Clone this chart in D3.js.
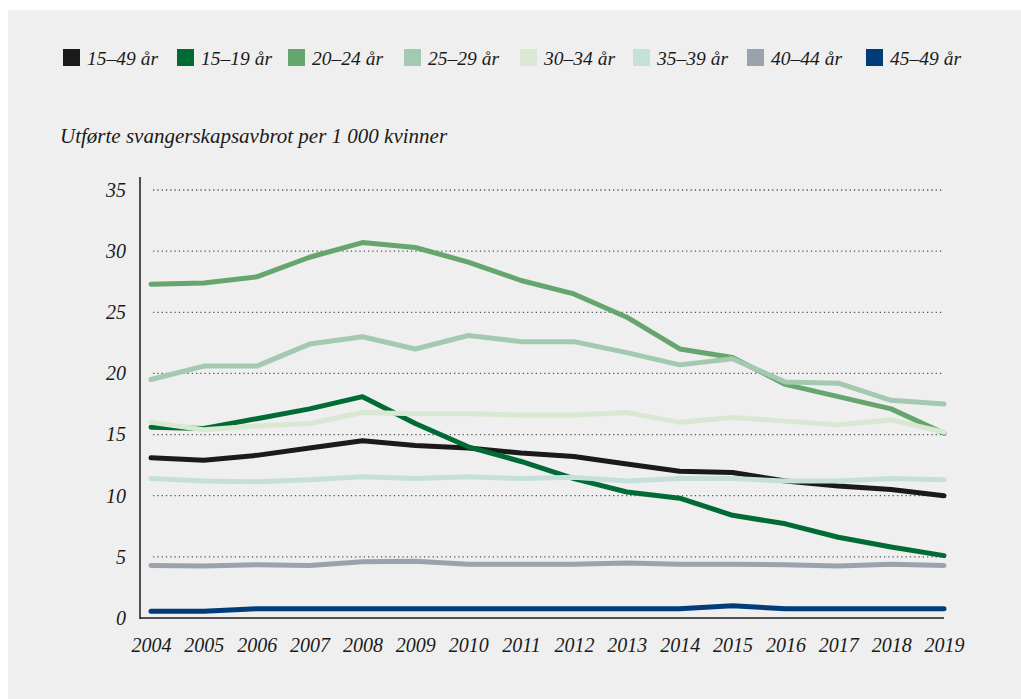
<!DOCTYPE html>
<html>
<head>
<meta charset="utf-8">
<style>
  body { margin: 0; background: #ffffff; }
  svg { display: block; }
  text { font-family: "Liberation Serif", serif; font-style: italic; fill: #1a1a1a; }
</style>
</head>
<body>
<script src="https://cdn.jsdelivr.net/npm/d3@7"></script>
<script>
// data
var years = [2004, 2005, 2006, 2007, 2008, 2009, 2010, 2011, 2012, 2013, 2014, 2015, 2016, 2017, 2018, 2019];
var seriesNames = ["15–49 år", "15–19 år", "20–24 år", "25–29 år", "30–34 år", "35–39 år", "40–44 år", "45–49 år"];
var seriesColors = ["#1a1a1a", "#006b35", "#66a66e", "#a3c9b1", "#d9e8d2", "#c5e0d8", "#9aa3ad", "#003b7a"];

var v1549 = [13.1, 12.9, 13.3, 13.9, 14.5, 14.1, 13.9, 13.5, 13.2, 12.6, 12.0, 11.9, 11.2, 10.8, 10.5, 10.0];
var v1519 = [15.6, 15.5, 16.3, 17.1, 18.1, 15.9, 14.0, 12.8, 11.4, 10.3, 9.8, 8.4, 7.7, 6.6, 5.8, 5.1];
var v2024 = [27.3, 27.4, 27.9, 29.5, 30.7, 30.3, 29.1, 27.6, 26.5, 24.6, 22.0, 21.3, 19.1, 18.1, 17.1, 15.1];
var v2529 = [19.5, 20.6, 20.6, 22.4, 23.0, 22.0, 23.1, 22.6, 22.6, 21.7, 20.7, 21.2, 19.3, 19.2, 17.8, 17.5];
var v3034 = [16.0, 15.4, 15.7, 15.9, 16.8, 16.7, 16.7, 16.6, 16.6, 16.8, 16.0, 16.4, 16.1, 15.8, 16.2, 15.2];
var v3539 = [11.4, 11.2, 11.15, 11.3, 11.55, 11.4, 11.55, 11.4, 11.5, 11.2, 11.4, 11.4, 11.2, 11.2, 11.4, 11.3];
var v4044 = [4.3, 4.25, 4.35, 4.3, 4.6, 4.65, 4.4, 4.4, 4.4, 4.5, 4.4, 4.4, 4.35, 4.25, 4.4, 4.3];
var v4549 = [0.55, 0.55, 0.75, 0.75, 0.75, 0.75, 0.75, 0.75, 0.75, 0.75, 0.75, 1.0, 0.75, 0.75, 0.75, 0.75];
var yTicks = [0, 5, 10, 15, 20, 25, 30, 35];
var yTitle = "Utførte svangerskapsavbrot per 1 000 kvinner";

var allValues = [v1549, v1519, v2024, v2529, v3034, v3539, v4044, v4549];
var series = seriesNames.map(function (n, i) {
    return { name: n, color: seriesColors[i], values: allValues[i] };
});

var W = 1021, H = 699;
var svg = d3.select("body").append("svg")
    .attr("width", W)
    .attr("height", H);

// grey panel
svg.append("rect")
    .attr("x", 8).attr("y", 10)
    .attr("width", W - 8).attr("height", H - 10)
    .attr("fill", "#efefef");

// scales
var x = d3.scaleLinear().domain([2004, 2019]).range([151, 944]);
var y = d3.scaleLinear().domain([0, 35]).range([618, 190]);

// legend
var legendX = [63, 177, 288, 404, 520, 633, 747, 866];
var legend = svg.append("g");
series.forEach(function (s, i) {
    legend.append("rect")
        .attr("x", legendX[i]).attr("y", 49)
        .attr("width", 17).attr("height", 17)
        .attr("fill", s.color);
    legend.append("text")
        .attr("x", legendX[i] + 24).attr("y", 65)
        .attr("font-size", "19.5px")
        .text(s.name);
});

// y title
svg.append("text")
    .attr("x", 60).attr("y", 143)
    .attr("font-size", "21px")
    .text(yTitle);

// dotted grid lines
svg.append("g")
    .selectAll("line")
    .data(yTicks.slice(1))
    .enter()
    .append("line")
    .attr("x1", 153).attr("x2", 944)
    .attr("y1", function (d) { return y(d); })
    .attr("y2", function (d) { return y(d); })
    .attr("stroke", "#555")
    .attr("stroke-width", 1.3)
    .attr("stroke-dasharray", "1.3,3");

// y axis
var yAxis = svg.append("g")
    .attr("transform", "translate(140,0)")
    .call(d3.axisLeft(y).tickValues(yTicks).tickSize(0).tickPadding(14));
yAxis.select(".domain").remove();
yAxis.selectAll("text")
    .attr("font-size", "20px")
    .attr("font-family", "Liberation Serif, serif")
    .style("font-style", "italic")
    .attr("fill", "#1a1a1a");

svg.append("line")
    .attr("x1", 140).attr("x2", 140)
    .attr("y1", 177).attr("y2", 619)
    .attr("stroke", "#1a1a1a").attr("stroke-width", 1.5);

// x axis
var xAxis = svg.append("g")
    .attr("transform", "translate(0,618)")
    .call(d3.axisBottom(x).tickValues(years).tickFormat(d3.format("d")).tickSize(0).tickPadding(20));
xAxis.select(".domain").remove();
xAxis.selectAll("text")
    .attr("font-size", "20px")
    .attr("font-family", "Liberation Serif, serif")
    .style("font-style", "italic")
    .attr("fill", "#1a1a1a");

svg.append("line")
    .attr("x1", 140).attr("x2", 944)
    .attr("y1", 618).attr("y2", 618)
    .attr("stroke", "#1a1a1a").attr("stroke-width", 1.5);

// lines
var line = d3.line()
    .x(function (d, i) { return x(years[i]); })
    .y(function (d) { return y(d); });

svg.append("g")
    .selectAll("path")
    .data(series)
    .enter()
    .append("path")
    .attr("d", function (s) { return line(s.values); })
    .attr("fill", "none")
    .attr("stroke", function (s) { return s.color; })
    .attr("stroke-width", 5)
    .attr("stroke-linejoin", "round")
    .attr("stroke-linecap", "round");
</script>
</body>
</html>
